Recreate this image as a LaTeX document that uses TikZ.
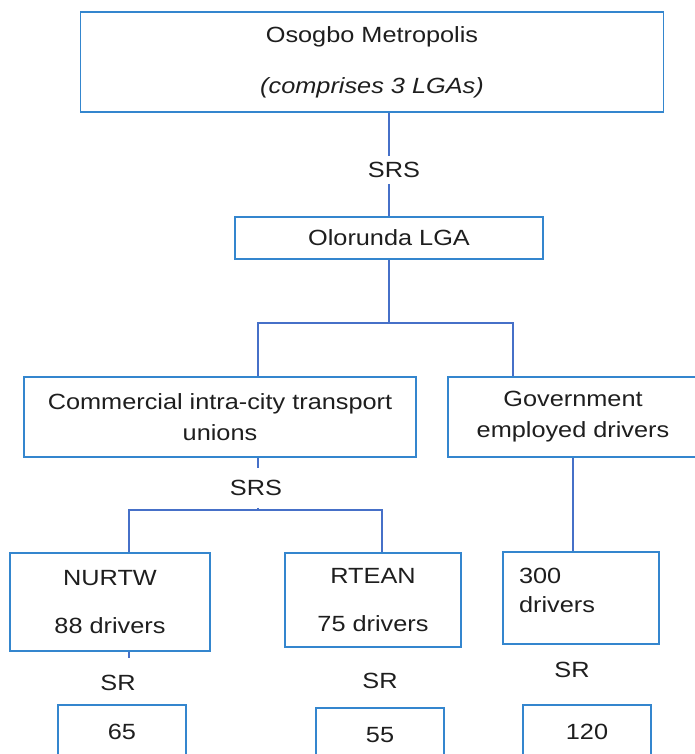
\documentclass[tikz,border=0pt]{standalone}
\usepackage{fontspec}
\setmainfont{Liberation Sans}[FakeStretch=1.15]
\usetikzlibrary{calc}
\usetikzlibrary{positioning}
\definecolor{boxblue}{RGB}{52,134,206}
\definecolor{linkblue}{RGB}{70,112,200}
\definecolor{inkgrey}{RGB}{30,30,30}

\begin{document}
\begin{tikzpicture}[x=1pt, y=-1pt,
    every node/.style={text=inkgrey, font=\fontsize{22}{31}\selectfont},
    box/.style={draw=boxblue, line width=1.7pt, align=center, inner sep=0pt},
    link/.style={draw=linkblue, line width=1.4pt},
    lbl/.style={inner xsep=2pt, inner ysep=6pt}]
      \useasboundingbox (0, 0) rectangle (694, 754);

      \coordinate (L1) at (258, 323);
      \coordinate (R1) at (513, 323);
      \coordinate (L2) at (129, 510);
      \coordinate (R2) at (382, 510);
      \coordinate (T1) at (129, 658);

      \node[box, minimum width=583pt, minimum height=100pt] (top) at (372, 62) {Osogbo Metropolis\\[20pt]{\itshape (comprises 3 LGAs)}};
      \node[box, minimum width=308pt, minimum height=42pt] (olo) at (389, 238) {Olorunda LGA};
      \node[box, minimum width=392pt, minimum height=80pt] (comm) at (220, 417) {Commercial intra-city transport\\unions};
      \node[box, minimum width=250pt, minimum height=80pt] (gov) at (573, 417) {Government\\employed drivers};
      \node[box, minimum width=200pt, minimum height=98pt] (nurtw) at (110, 602) {NURTW\\[17pt]88 drivers};
      \node[box, minimum width=176pt, minimum height=94pt] (rtean) at (373, 600) {RTEAN\\[17pt]75 drivers};
      \node[box, align=left, inner xsep=16pt, inner ysep=0pt, font=\fontsize{22}{29}\selectfont] (p300) at (581, 598) {\parbox[c][92pt][t]{124pt}{\vspace*{16pt}300\\drivers}};
      \node[box, minimum width=128pt, minimum height=54pt] (b65) at (122, 732) {65};
      \node[box, minimum width=128pt, minimum height=54pt] (b55) at (380, 735) {55};
      \node[box, minimum width=128pt, minimum height=54pt] (b120) at (587, 732) {120};

      \node[lbl] (srs1) at (394, 170) {SRS};
      \node[lbl, inner ysep=12pt] (srs2) at (256, 488) {SRS};
      \node[lbl] (sr1) at (118, 683) {SR};
      \node[lbl] (sr2) at (380, 681) {SR};
      \node[lbl] (sr3) at (572, 670) {SR};

      \draw[link] (top.south -| olo.north) -- (srs1.north -| olo.north);
      \draw[link] (srs1.south -| olo.north) -- (olo.north);
      \draw[link] (olo.south) -- (olo.south |- L1);
      \draw[link] (comm.north -| L1) -- (L1) -- (R1) -- (gov.north -| R1);
      \draw[link] (comm.south -| L1) -- (srs2.north -| L1);
      \draw[link] (srs2.south -| L1) -- (L1 |- L2);
      \draw[link] (nurtw.north -| L2) -- (L2) -- (R2) -- (rtean.north -| R2);
      \draw[link] (gov.south) -- (gov.south |- p300.north);
      \draw[link] (nurtw.south -| T1) -- (T1);
    \end{tikzpicture}
\end{document}
